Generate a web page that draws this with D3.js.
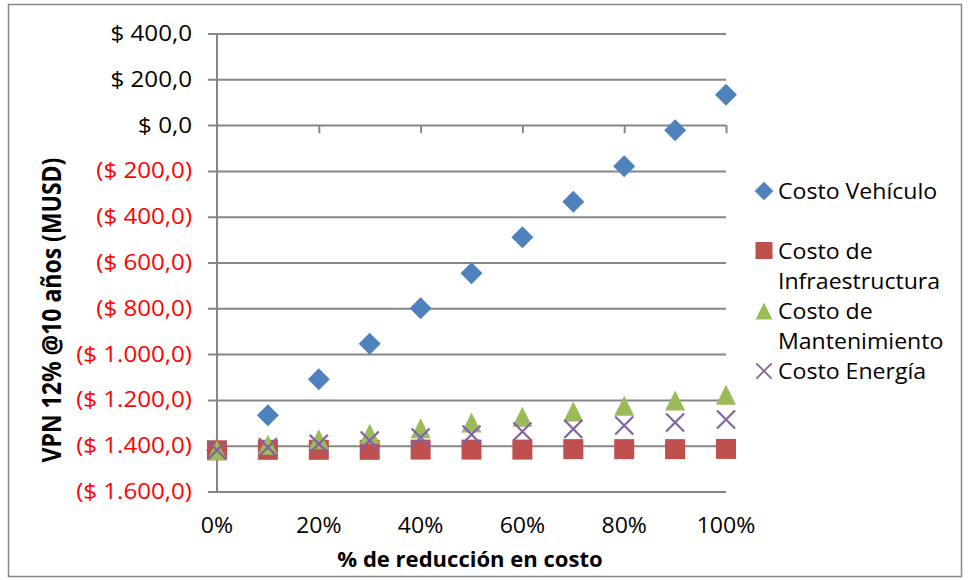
<!DOCTYPE html>
<html>
<head>
<meta charset="utf-8">
<script src="https://cdn.jsdelivr.net/npm/d3@7"></script>
<style>
  html, body { margin: 0; padding: 0; background: #fff; }
  svg { display: block; font-family: "Open Sans", "Noto Sans", sans-serif; }
</style>
</head>
<body>
<svg id="chart" width="969" height="580"></svg>
<script>
// Share of cost reduction applied to each component
const reductions = [0, 0.1, 0.2, 0.3, 0.4, 0.5, 0.6, 0.7, 0.8, 0.9, 1.0];

// NPV at 12% over 10 years (MUSD) for each cost component reduced
const costoVehiculo        = [-1420, -1267, -1110, -955, -800, -647, -490, -335, -180, -23, 132];
const costoInfraestructura = [-1420, -1418, -1418, -1418, -1417, -1417, -1417, -1415, -1415, -1415, -1414];
const costoMantenimiento   = [-1420, -1396, -1372, -1348, -1324, -1299, -1274, -1251, -1226, -1203, -1178];
const costoEnergia         = [-1420, -1407, -1392, -1377, -1364, -1351, -1338, -1327, -1312, -1299, -1286];

const legendLines = [["Costo Vehículo"], ["Costo de", "Infraestructura"], ["Costo de", "Mantenimiento"], ["Costo Energía"]];

const yTicks = [400, 200, 0, -200, -400, -600, -800, -1000, -1200, -1400, -1600];
const xTicks = [0, 0.2, 0.4, 0.6, 0.8, 1.0];

const yTitle = "VPN 12% @10 años (MUSD)";
const xTitle = "% de reducción en costo";

const colors = ["#4F81BD", "#C0504D", "#9BBB59", "#8064A2"];
const gridColor = "#868686";
const fontSize = 21;
const sx = 1.1;   // horizontal text stretch

const svg = d3.select("#chart");

// outer chart frame
svg.append("rect")
  .attr("x", 8.5).attr("y", 4.5)
  .attr("width", 953).attr("height", 572)
  .attr("fill", "#fff").attr("stroke", "#868686").attr("stroke-width", 1.5);

const x = d3.scaleLinear().domain([0, 1]).range([217, 726]);
const y = d3.scaleLinear().domain([-1600, 400]).range([491.5, 33.5]);

// text helper: places a horizontally stretched label at (px, py)
function label(parent, px, py, str, opts = {}) {
  const g = parent.append("g")
    .attr("transform", `translate(${px},${py}) scale(${opts.sx || sx},1)`);
  return g.append("text")
    .attr("text-anchor", opts.anchor || "start")
    .attr("font-size", opts.size || fontSize)
    .attr("font-weight", opts.weight || "normal")
    .attr("fill", opts.fill || "#000")
    .text(str);
}

const fmtValue = v => {
  const s = d3.format(",.1f")(Math.abs(v)).replace(/,/g, "#").replace(".", ",").replace(/#/g, ".");
  return v < 0 ? "($ " + s + ")" : "$ " + s;
};

// horizontal gridlines (y axis ticks)
const yAxis = d3.axisLeft(y)
  .tickValues(yTicks)
  .tickSize(-(x.range()[1] - x.range()[0]))
  .tickFormat("");

const gy = svg.append("g").attr("transform", `translate(${x(0)},0)`).call(yAxis);
gy.select(".domain").remove();
gy.selectAll(".tick line")
  .attr("x1", -9)
  .attr("stroke", gridColor).attr("stroke-width", 2);

// y tick labels, negatives in red inside parentheses
const yLabels = svg.append("g");
yTicks.forEach(v => {
  label(yLabels, x(0) - 25, y(v) + 7.5, fmtValue(v),
        { anchor: "end", fill: v < 0 ? "#FF0000" : "#000", sx: 1.15 });
});

// vertical axis line
svg.append("line")
  .attr("x1", x(0)).attr("x2", x(0))
  .attr("y1", y(400)).attr("y2", y(-1600))
  .attr("stroke", gridColor).attr("stroke-width", 2);

// horizontal axis crossing at zero, with tick marks hanging below it
const xAxis = d3.axisBottom(x).tickValues(xTicks.slice(1)).tickSize(8).tickFormat("");
const gx = svg.append("g").attr("transform", `translate(0,${y(0)})`).call(xAxis);
gx.select(".domain").remove();
gx.selectAll(".tick line").attr("stroke", gridColor).attr("stroke-width", 2);

// x tick labels at the bottom of the plot
const xLabels = svg.append("g");
xTicks.forEach(v => {
  label(xLabels, x(v), 533, d3.format(".0%")(v), { anchor: "middle" });
});

// axis titles
label(svg, 470, 567, xTitle, { anchor: "middle", weight: "bold", size: 21, sx: 1.05 });

svg.append("g")
  .attr("transform", "translate(61,310) scale(1.2,1) rotate(-90)")
  .append("text")
  .attr("text-anchor", "middle")
  .attr("font-size", 23).attr("font-weight", "bold")
  .text(yTitle);

// marker shapes
const markerSize = 20;
function drawMarker(sel, i) {
  const h = markerSize / 2;
  if (i === 0) {
    sel.append("path").attr("d", `M0,${-h - 1}L${h + 1},0L0,${h + 1}L${-h - 1},0Z`).attr("fill", colors[0]);
  } else if (i === 1) {
    sel.append("rect").attr("x", -h).attr("y", -h).attr("width", markerSize).attr("height", markerSize).attr("fill", colors[1]);
  } else if (i === 2) {
    sel.append("path").attr("d", `M0,${-h}L${h},${h}L${-h},${h}Z`).attr("fill", colors[2]);
  } else {
    const k = h - 1;
    sel.append("path").attr("d", `M${-k},${-k}L${k},${k}M${k},${-k}L${-k},${k}`)
      .attr("stroke", colors[3]).attr("stroke-width", 2.2).attr("fill", "none");
  }
}

const allSeries = [costoVehiculo, costoInfraestructura, costoMantenimiento, costoEnergia];
allSeries.forEach((vals, i) => {
  const g = svg.append("g").attr("class", "series-" + i);
  vals.forEach((v, j) => {
    const m = g.append("g").attr("transform", `translate(${x(reductions[j])},${y(v)})`);
    drawMarker(m, i);
  });
});

// legend
const legendY = [191, 250.5, 311, 371];
legendLines.forEach((lines, i) => {
  const g = svg.append("g").attr("transform", `translate(764,${legendY[i]})`);
  const mg = g.append("g").attr("transform", "scale(0.85)");
  drawMarker(mg, i);
  lines.forEach((ln, k) => {
    label(g, 14, 8 + k * 30, ln);
  });
});
</script>
</body>
</html>
